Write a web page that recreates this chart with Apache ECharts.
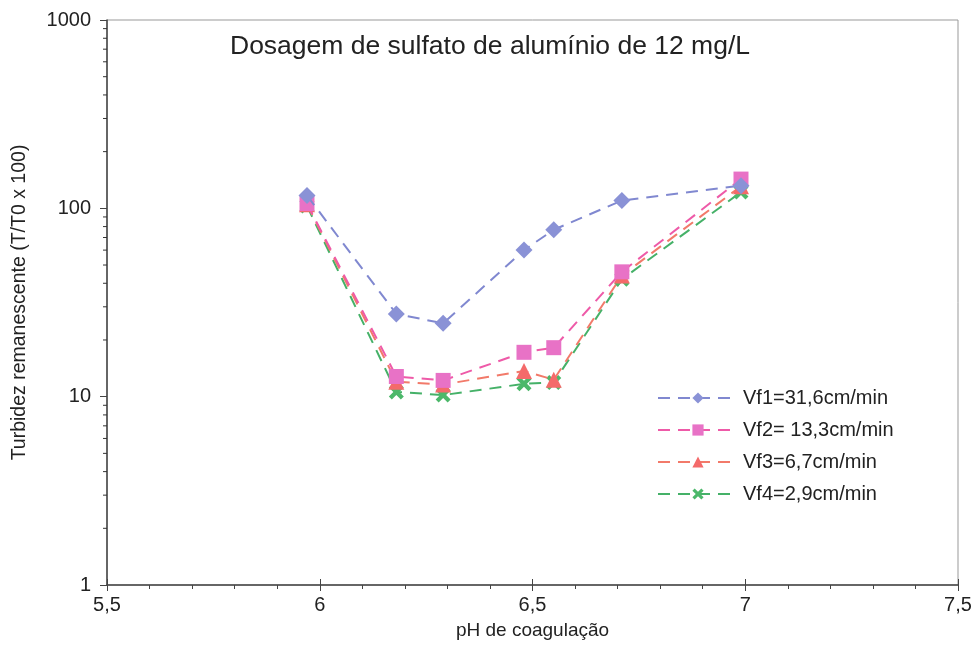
<!DOCTYPE html>
<html>
<head>
<meta charset="utf-8">
<script src="https://cdn.jsdelivr.net/npm/echarts@6/dist/echarts.min.js"></script>
<style>html,body{margin:0;padding:0;background:#fff;}#c{width:980px;height:648px;}</style>
</head>
<body>
<div id="c"></div>
<script>
var titleText = 'Dosagem de sulfato de alumínio de 12 mg/L';
var xName = 'pH de coagulação';
var yName = 'Turbidez remanescente (T/T0 x 100)';
var seriesNames = ['Vf1=31,6cm/min', 'Vf2= 13,3cm/min', 'Vf3=6,7cm/min', 'Vf4=2,9cm/min'];
var pH = [5.97, 6.18, 6.29, 6.48, 6.55, 6.71, 6.99];
var vf1 = [117, 27.5, 24.5, 60, 77, 110, 132];
var vf2 = [106, 12.8, 12.2, 17.2, 18.2, 46, 143];
var vf3 = [105, 12.0, 11.6, 13.7, 12.3, 44, 131];
var vf4 = [103, 10.6, 10.2, 11.7, 11.9, 42, 122];
var yMinorTicks = [2,3,4,5,6,7,8,9,20,30,40,50,60,70,80,90,200,300,400,500,600,700,800,900];

var font = "'Liberation Sans', Arial, sans-serif";
var colors = ['#8088d0', '#ee5aa8', '#f27a6a', '#45b168'];
var symbolColors = ['#8a92d6', '#e872c6', '#f46a6a', '#4cb86a'];
var symbols = ['diamond', 'rect', 'triangle',
  'path://M0,2 L2,0 L5,3 L8,0 L10,2 L7,5 L10,8 L8,10 L5,7 L2,10 L0,8 L3,5 Z'];
var symbolSizes = [17, 15, 16, 15];
var values = [vf1, vf2, vf3, vf4];

function pairs(xs, ys) { return xs.map(function (x, i) { return [x, ys[i]]; }); }

var series = values.map(function (v, i) {
  return {
    name: seriesNames[i],
    type: 'line',
    data: pairs(pH, v),
    symbol: symbols[i],
    symbolSize: symbolSizes[i],
    showAllSymbol: true,
    lineStyle: { color: colors[i], width: 2, type: [12, 8] },
    itemStyle: { color: symbolColors[i], borderWidth: 0 },
    emphasis: { disabled: true },
    z: 5 - i + 2
  };
});

series.push({
  type: 'custom',
  silent: true,
  clip: false,
  data: yMinorTicks.map(function (v) { return [5.5, v]; }),
  renderItem: function (params, api) {
    var p = api.coord([api.value(0), api.value(1)]);
    return {
      type: 'line',
      shape: { x1: p[0] - 4, y1: p[1], x2: p[0], y2: p[1] },
      style: { stroke: '#333', lineWidth: 1 }
    };
  },
  z: 1
});

var chart = echarts.init(document.getElementById('c'));
chart.setOption({
  animation: false,
  backgroundColor: '#fff',
  textStyle: { fontFamily: font },
  title: {
    text: titleText,
    left: 485, top: 28, textAlign: 'center',
    textStyle: { fontFamily: font, fontSize: 26.5, fontWeight: 'normal', color: '#222' }
  },
  grid: {
    left: 107, right: 22, top: 20, bottom: 63,
    containLabel: false, outerBoundsMode: 'none',
    show: true, borderColor: '#999', borderWidth: 1, backgroundColor: 'transparent'
  },
  legend: {
    orient: 'vertical',
    left: 652, top: 383,
    itemWidth: 80, itemHeight: 14, itemGap: 12,
    data: seriesNames,
    textStyle: { fontFamily: font, fontSize: 20, color: '#222' }
  },
  xAxis: [{
    type: 'value', min: 5.5, max: 7.5, interval: 0.5,
    name: xName, nameLocation: 'middle', nameGap: 36,
    nameTextStyle: { fontFamily: font, fontSize: 19, color: '#222' },
    axisLine: { show: true, lineStyle: { color: '#444', width: 1.5 } },
    axisTick: { show: true, length: 6, lineStyle: { color: '#444' } },
    minorTick: { show: true, splitNumber: 5, length: 4, lineStyle: { color: '#444' } },
    splitLine: { show: false },
    axisLabel: {
      fontFamily: font, fontSize: 20, color: '#222', margin: 10,
      formatter: function (v) { return String(v).replace('.', ','); }
    }
  }, {
    type: 'value', min: 5.5, max: 7.5, interval: 0.5, position: 'bottom',
    axisLine: { show: false },
    axisTick: { show: true, inside: true, length: 6, lineStyle: { color: '#444' } },
    axisLabel: { show: false },
    splitLine: { show: false }
  }],
  yAxis: {
    type: 'log', logBase: 10, min: 1, max: 1000,
    name: yName, nameLocation: 'middle', nameGap: 77,
    nameTextStyle: { fontFamily: font, fontSize: 19.5, color: '#222' },
    axisLine: { show: true, lineStyle: { color: '#444', width: 1.5 } },
    axisTick: { show: true, length: 7, lineStyle: { color: '#444' } },
    splitLine: { show: false },
    axisLabel: {
      fontFamily: font, fontSize: 20, color: '#222', margin: 16,
      formatter: function (v) { return String(Math.round(v)); }
    }
  },
  series: series
});
</script>
</body>
</html>
